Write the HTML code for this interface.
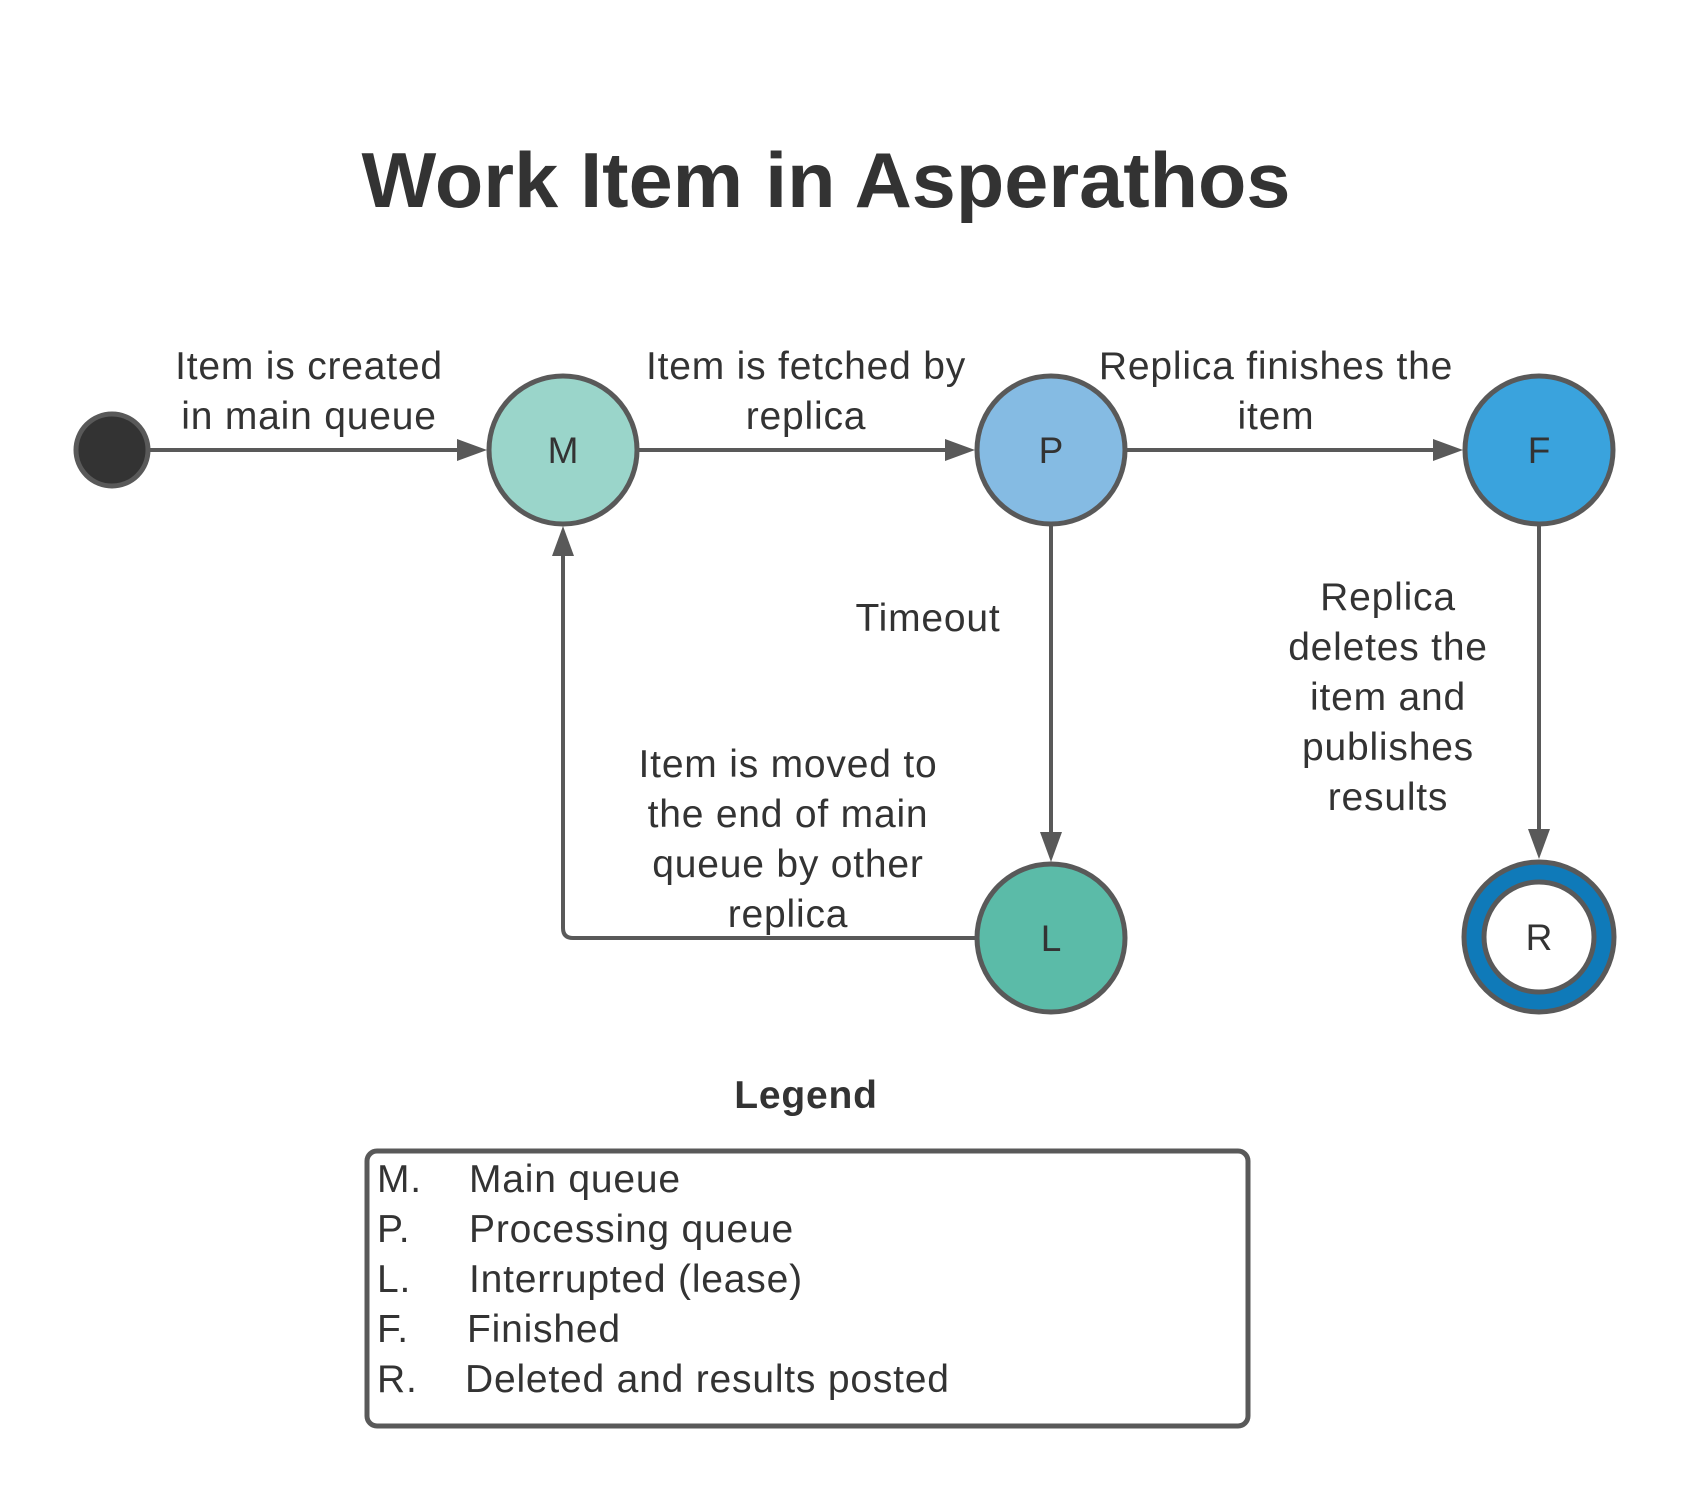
<!DOCTYPE html>
<html><head><meta charset="utf-8"><style>
html,body{margin:0;padding:0;background:#fff;}
svg{display:block;}
text{font-family:"Liberation Sans",Arial,sans-serif;fill:#333;}
</style></head><body>
<svg width="1688" height="1500" viewBox="0 0 1688 1500" xmlns="http://www.w3.org/2000/svg">
<text x="826" y="207" text-anchor="middle" font-size="78" font-weight="bold" textLength="929" lengthAdjust="spacingAndGlyphs">Work Item in Asperathos</text>

<g stroke="#595959" stroke-width="4" fill="none">
<line x1="150" y1="450" x2="460" y2="450"/>
<line x1="639" y1="450" x2="948" y2="450"/>
<line x1="1127" y1="450" x2="1436" y2="450"/>
<line x1="1051" y1="526" x2="1051" y2="834"/>
<line x1="1539" y1="526" x2="1539" y2="832"/>
<path d="M975 938 H573 Q563 938 563 928 V556"/>
</g>
<g fill="#595959">
<polygon points="487,450 457,439 457,461"/>
<polygon points="975,450 945,439 945,461"/>
<polygon points="1463,450 1433,439 1433,461"/>
<polygon points="1051,862 1040,832 1062,832"/>
<polygon points="1539,859 1528,829 1550,829"/>
<polygon points="563,526 552,556 574,556"/>
</g>

<circle cx="112" cy="450" r="36" fill="#333" stroke="#595959" stroke-width="5"/>
<circle cx="563" cy="450" r="74" fill="#9AD5CA" stroke="#595959" stroke-width="5"/>
<circle cx="1051" cy="450" r="74" fill="#85BBE3" stroke="#595959" stroke-width="5"/>
<circle cx="1539" cy="450" r="74" fill="#3AA3DD" stroke="#595959" stroke-width="5"/>
<circle cx="1051" cy="938" r="74" fill="#5BBBA8" stroke="#595959" stroke-width="5"/>
<circle cx="1539" cy="937" r="75" fill="#0F7AB9" stroke="#595959" stroke-width="5"/>
<circle cx="1539" cy="937" r="55" fill="#fff" stroke="#595959" stroke-width="5"/>

<g font-size="37" text-anchor="middle">
<text x="563" y="463">M</text>
<text x="1051" y="463">P</text>
<text x="1539" y="463">F</text>
<text x="1051" y="951">L</text>
<text x="1539" y="950">R</text>
</g>
<g font-size="39" text-anchor="middle" letter-spacing="0.8">
<text x="309" y="379">Item is created</text>
<text x="309" y="429">in main queue</text>
<text x="806" y="379">Item is fetched by</text>
<text x="806" y="429">replica</text>
<text x="1276" y="379">Replica finishes the</text>
<text x="1276" y="429">item</text>
<text x="928" y="631">Timeout</text>
<text x="788" y="777">Item is moved to</text>
<text x="788" y="827">the end of main</text>
<text x="788" y="877">queue by other</text>
<text x="788" y="927">replica</text>
<text x="1388" y="610">Replica</text>
<text x="1388" y="660">deletes the</text>
<text x="1388" y="710">item and</text>
<text x="1388" y="760">publishes</text>
<text x="1388" y="810">results</text>
<text x="806" y="1108" font-weight="bold">Legend</text>
</g>

<rect x="367" y="1151" width="881" height="275" rx="10" fill="none" stroke="#595959" stroke-width="5"/>
<g font-size="39" letter-spacing="0.8">
<text x="377" y="1192">M.</text><text x="469" y="1192">Main queue</text>
<text x="377" y="1242">P.</text><text x="469" y="1242">Processing queue</text>
<text x="377" y="1292">L.</text><text x="469" y="1292">Interrupted (lease)</text>
<text x="377" y="1342">F.</text><text x="467" y="1342">Finished</text>
<text x="377" y="1392">R.</text><text x="465" y="1392">Deleted and results posted</text>
</g>
</svg>
</body></html>
